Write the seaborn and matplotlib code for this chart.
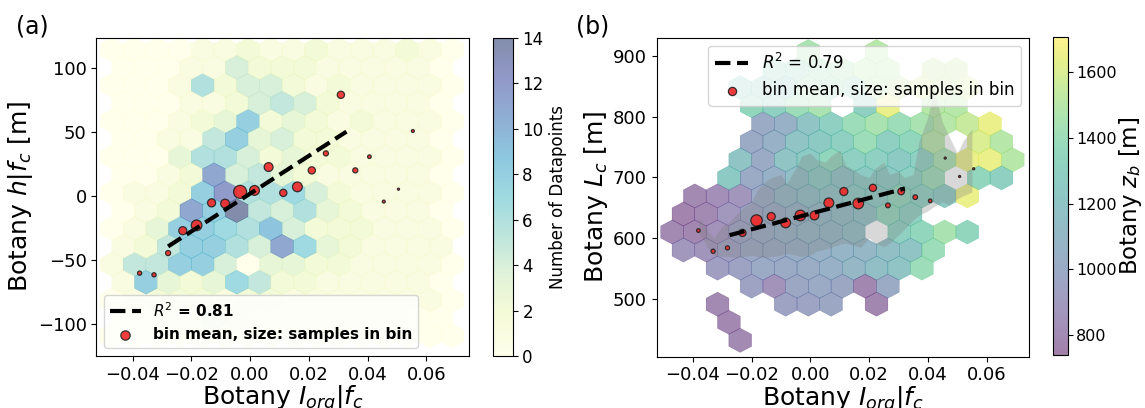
import numpy as np
import pandas as pd
import matplotlib
matplotlib.use("Agg")
from matplotlib import pyplot as plt
import seaborn as sns

# hexagon lattice shared by both panels: gridsize (15, 8) over the I_org range
x_extent = (-0.04705, 0.0689)
grid_n = (15, 8)

# (a) datapoints per hexagon, rows from top to bottom, hex digits (0-14)
counts_a = [
    "0000112112111210",
    "000114222111110",
    "0001624421211110",
    "000112454211110",
    "0001238232121110",
    "001158342211110",
    "0003664232211110",
    "0012b4532111110",
    "01128c6674211110",
    "012b8e546321110",
    "0138876942221110",
    "1258864b73211110",
    "1558840332211110",
    "183237522111110",
    "0122212211111110",
    "001132111111100",
    "0001111111100000",
]
y_extent_a = (-109.3, 114.7)

# (b) mean z_b per hexagon [m], rows from top to bottom, None = empty
_ = None
zb_b = [
    [_, _, _, _, _, _, 1450, _, _, 1500, _, _, _, _, _, _],
    [_, _, _, _, 1350, 1350, 1400, 1450, 1500, 1500, _, 1550, 1550, _, _],
    [_, _, _, 1300, 1300, 1250, 1450, 1400, 1350, 1500, 1550, 1600, 1550, 1600, _, _],
    [_, _, _, 1350, 1300, 1400, 1450, _, 1300, 1650, _, 1500, 1500, _, _],
    [_, _, _, _, 1000, 1050, 1200, 1300, 1400, 1450, 1400, 1450, 1500, 1550, 1650, _],
    [_, _, _, 1000, 1050, 1200, 1250, 1300, 1400, 1300, 1350, 1500, _, 1600, 1500],
    [_, _, _, 1200, 1000, 1200, 1250, 1350, 1300, 1300, 1250, 1300, 1450, 1650, 1650, 1500],
    [_, _, 1250, 1000, 1050, 1150, 1250, 1200, 1250, 1250, 1300, 1400, _, 1350, 1300],
    [_, 800, 830, 870, 1000, 1100, 1150, 1200, 1250, 1250, 1350, 1300, 1250, 1650, _, _],
    [770, 800, 880, 960, 1000, 1050, 1100, 1130, 1180, 1350, 1300, _, _, _, _],
    [800, 780, 850, 960, 1000, 1050, 1080, 1100, 1150, _, 1300, 1350, 1450, 1350, _, _],
    [880, 860, 930, 980, 1000, 1030, 1050, 1080, 1100, 1150, 1200, 1400, _, _, _],
    [_, _, 920, 950, 1000, 1000, 1020, 1050, 1100, 1150, 1200, 1400, _, _, _, _],
    [_, _, _, 950, 850, 980, 1000, 980, 780, 1000, _, _, _, _, _],
    [_, _, 800, _, _, 950, 960, 980, _, 780, _, _, _, _, _, _],
    [_, _, 790, _, _, _, _, _, _, _, _, _, _, _, _],
    [_, _, _, 800, _, _, _, _, _, _, _, _, _, _, _, _],
]
y_extent_b = (432.0, 907.2)

# bin means and samples per bin
bin_x_a = [-0.0376, -0.0327, -0.0279, -0.0229, -0.0182, -0.0131, -0.0085, -0.0034, 0.0015, 0.0063,
           0.0113, 0.0161, 0.0210, 0.0258, 0.0309, 0.0358, 0.0406, 0.0455, 0.0505, 0.0554]
bin_y_a = [-60.2, -61.5, -44.5, -27.0, -22.8, -5.2, -5.8, 3.4, 4.5, 22.8,
           2.6, 7.3, 20.2, 33.5, 79.3, 20.2, 30.9, -4.2, 5.5, 51.0]
bin_n_a = [4, 4, 6, 15, 26, 15, 18, 39, 22, 18, 12, 22, 12, 6, 12, 6, 3, 2, 1, 2]

bin_x_b = [-0.0381, -0.0331, -0.0282, -0.0231, -0.0183, -0.0133, -0.0084, -0.0034, 0.0014, 0.0063,
           0.0114, 0.0163, 0.0213, 0.0264, 0.0309, 0.0357, 0.0408, 0.0459, 0.0508, 0.0556]
bin_y_b = [612.6, 578.6, 584.1, 608.8, 629.1, 635.7, 625.3, 637.4, 637.4, 658.2,
           676.9, 657.1, 682.9, 654.0, 676.9, 667.6, 661.5, 731.9, 701.6, 714.3]
bin_n_b = [3, 4, 4, 12, 30, 15, 22, 26, 18, 22, 15, 26, 12, 5, 10, 5, 3, 1, 1, 1]

# linear fits: slope, intercept, x range
fit_a = (1479.0, 2.0, -0.0279, 0.0328)
fit_b = (1288.0, 640.4, -0.0275, 0.0322)

# spread band in (b)
band_x = [-0.038, -0.035, -0.033, -0.030, -0.028, -0.025, -0.023, -0.020, -0.018, -0.015,
          -0.013, -0.010, -0.008, -0.005, -0.003, 0.000, 0.002, 0.005, 0.007, 0.010,
          0.012, 0.015, 0.017, 0.020, 0.022, 0.025, 0.027, 0.030, 0.032, 0.035,
          0.037, 0.040, 0.042, 0.045, 0.047, 0.050, 0.052, 0.055]
band_hi = [633, 615, 600, 620, 625, 640, 650, 660, 680, 695,
           700, 705, 690, 715, 735, 740, 730, 725, 735, 745,
           720, 712, 705, 700, 715, 725, 705, 710, 700, 705,
           760, 800, 847, 790, 770, 740, 760, 780]
band_lo = [610, 585, 572, 570, 570, 568, 570, 572, 570, 568,
           570, 572, 575, 572, 570, 572, 578, 582, 585, 590,
           592, 588, 585, 600, 592, 586, 592, 605, 615, 630,
           638, 645, 652, 660, 655, 665, 670, 676]


def lattice(rows, y_ext):
    nx, ny = grid_n
    sx = (x_extent[1] - x_extent[0]) / nx
    sy = (y_ext[1] - y_ext[0]) / ny
    xs, ys, cs = [], [], []
    for r, row in enumerate(rows):
        k = 2 * ny - r
        off = 0.0 if k % 2 == 0 else 0.5
        for i, v in enumerate(row):
            if v is None:
                continue
            xs.append(x_extent[0] + (i + off) * sx)
            ys.append(y_ext[0] + k * sy / 2)
            cs.append(v)
    return pd.DataFrame({"x": xs, "y": ys, "c": cs})


cells_a = lattice([[int(ch, 16) for ch in row] for row in counts_a], y_extent_a)
cells_b = lattice(zb_b, y_extent_b)

fig = plt.figure(figsize=(11.45, 4.08), dpi=100)
ax_a = fig.add_axes([0.0842, 0.1275, 0.3254, 0.7801])
cax_a = fig.add_axes([0.4306, 0.1275, 0.0171, 0.7801])
ax_b = fig.add_axes([0.5735, 0.1257, 0.3254, 0.7819])
cax_b = fig.add_axes([0.9194, 0.1299, 0.0136, 0.7787])

# ---- (a)
hb_a = ax_a.hexbin(cells_a["x"], cells_a["y"], C=cells_a["c"], reduce_C_function=np.sum,
                   gridsize=grid_n, extent=x_extent + y_extent_a, linewidths=0.3,
                   cmap="YlGnBu", alpha=0.5, vmin=0, vmax=14, zorder=1)
df_a = pd.DataFrame({"x": bin_x_a, "y": bin_y_a, "n": bin_n_a})
sns.scatterplot(data=df_a, x="x", y="y", size="n", sizes=(0, 90), size_norm=(0, 40),
                color="#f02828", edgecolor="#222222", linewidth=0.9, alpha=0.9,
                legend=False, zorder=4, ax=ax_a)
pts_a = ax_a.collections[-1]
xf = np.linspace(fit_a[2], fit_a[3], 2)
line_a, = ax_a.plot(xf, fit_a[0] * xf + fit_a[1], "k--", lw=3, zorder=5)
ax_a.legend([line_a, pts_a], ["$R^2$ = 0.81", "bin mean, size: samples in bin"],
            loc="lower left", prop={"size": 11, "weight": "bold"})
ax_a.set_xlim(-0.0523, 0.0745)
ax_a.set_ylim(-125, 124)
ax_a.set_xticks([-0.04, -0.02, 0.0, 0.02, 0.04, 0.06])
ax_a.set_yticks([-100, -50, 0, 50, 100])
ax_a.set_xlabel("Botany $I_{org}|f_c$", fontsize=18, labelpad=0)
ax_a.set_ylabel("Botany $h|f_c$ [m]", fontsize=18, labelpad=2)
ax_a.tick_params(labelsize=13)
cb_a = fig.colorbar(hb_a, cax=cax_a)
cb_a.set_label("Number of Datapoints", fontsize=12)
cb_a.ax.tick_params(labelsize=12)

# ---- (b)
hb_b = ax_b.hexbin(cells_b["x"], cells_b["y"], C=cells_b["c"], reduce_C_function=np.mean,
                   gridsize=grid_n, extent=x_extent + y_extent_b, linewidths=0.3,
                   cmap="viridis", alpha=0.5, vmin=740, vmax=1705, zorder=1)
ax_b.fill_between(band_x, band_lo, band_hi, color="gray", alpha=0.3, lw=0, zorder=2)
df_b = pd.DataFrame({"x": bin_x_b, "y": bin_y_b, "n": bin_n_b})
sns.scatterplot(data=df_b, x="x", y="y", size="n", sizes=(0, 90), size_norm=(0, 40),
                color="#f02828", edgecolor="#222222", linewidth=0.9, alpha=0.9,
                legend=False, zorder=4, ax=ax_b)
pts_b = ax_b.collections[-1]
xf = np.linspace(fit_b[2], fit_b[3], 2)
line_b, = ax_b.plot(xf, fit_b[0] * xf + fit_b[1], "k--", lw=3, zorder=5)
ax_b.legend([line_b, pts_b], ["$R^2$ = 0.79", "bin mean, size: samples in bin"],
            loc="upper right", prop={"size": 12})
ax_b.set_xlim(-0.0523, 0.0745)
ax_b.set_ylim(405, 930)
ax_b.set_xticks([-0.04, -0.02, 0.0, 0.02, 0.04, 0.06])
ax_b.set_yticks([500, 600, 700, 800, 900])
ax_b.set_xlabel("Botany $I_{org}|f_c$", fontsize=18, labelpad=0)
ax_b.set_ylabel("Botany $L_c$ [m]", fontsize=18, labelpad=2)
ax_b.tick_params(labelsize=13)
cb_b = fig.colorbar(hb_b, cax=cax_b)
cb_b.set_label("Botany $z_b$ [m]", fontsize=16.5, labelpad=0)
cb_b.ax.tick_params(labelsize=11.5, pad=2)

fig.text(0.028, 0.935, "(a)", fontsize=17, ha="center", va="center")
fig.text(0.518, 0.935, "(b)", fontsize=17, ha="center", va="center")

fig.savefig("out.png", dpi=100)
